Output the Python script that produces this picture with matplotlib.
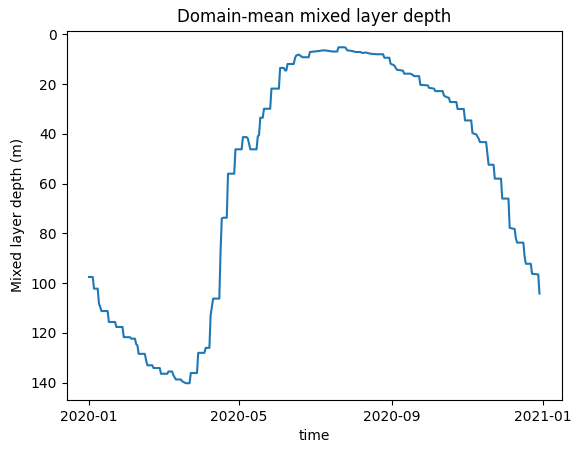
import numpy as np
import matplotlib
matplotlib.use("Agg")
import matplotlib.pyplot as plt
import matplotlib.dates as mdates

start_date = "2020-01-01"
# day offsets from start_date at the vertices of the curve
day_offsets = [0, 3, 4, 7, 8, 9, 10, 15, 16, 21, 22, 27, 28, 33, 34, 37, 38, 39, 40, 45,
               46, 47, 51, 52, 57, 58, 63, 64, 67, 68, 70, 74, 75, 78, 81, 82, 87, 88, 93, 94,
               97, 98, 100, 105, 106, 107, 108, 111, 112, 117, 118, 123, 124, 127, 128, 130, 131, 135, 136, 137,
               138, 140, 141, 146, 147, 153, 154, 157, 158, 159, 160, 165, 166, 167, 169, 172, 173, 177, 178, 185,
               189, 194, 196, 200, 201, 206, 207, 208, 212, 215, 219, 220, 223, 227, 232, 237, 238, 242, 243, 246,
               248, 253, 254, 259, 261, 262, 266, 267, 273, 274, 278, 279, 285, 286, 288, 290, 291, 296, 297, 302,
               303, 308, 309, 312, 314, 315, 320, 321, 322, 326, 327, 332, 333, 338, 339, 343, 344, 345, 350, 351,
               352, 356, 357, 362, 363]
mld = [97.5, 97.5, 102.2, 102.2, 108.2, 109.5, 111.2, 111.2, 115.6, 115.6, 117.6, 117.6, 121.7, 121.7, 122.3, 122.3, 124.5, 125.0, 128.4, 128.4,
       131.0, 133.0, 133.0, 134.1, 134.1, 136.4, 136.4, 135.5, 135.5, 137.0, 138.7, 138.7, 139.4, 140.2, 140.2, 136.1, 136.1, 128.0, 128.0, 126.0,
       126.0, 112.9, 106.2, 106.2, 87.1, 74.0, 73.7, 73.7, 56.0, 56.0, 46.2, 46.2, 41.3, 41.3, 41.9, 46.2, 46.2, 46.2, 41.0, 40.5,
       33.5, 33.5, 29.9, 29.9, 21.8, 21.8, 13.5, 13.5, 14.5, 14.5, 11.9, 11.9, 9.5, 8.5, 8.1, 9.2, 9.2, 9.2, 7.1, 6.7,
       6.4, 6.7, 6.9, 6.9, 5.2, 5.2, 5.5, 6.4, 6.7, 7.1, 7.1, 7.5, 7.3, 7.8, 8.0, 8.0, 9.4, 9.4, 11.8, 12.5,
       14.2, 14.6, 15.8, 15.8, 16.3, 16.8, 16.8, 20.3, 20.5, 21.5, 21.8, 22.8, 22.8, 24.6, 25.2, 25.5, 27.2, 27.2, 30.0, 30.0,
       34.6, 34.6, 39.7, 40.2, 41.9, 43.3, 43.3, 48.0, 52.4, 52.4, 58.0, 58.0, 66.0, 66.0, 77.8, 78.2, 82.1, 83.7, 83.7, 89.2,
       92.2, 92.2, 96.2, 96.5, 104.2]

title = "Domain-mean mixed layer depth"
xlabel = "time"
ylabel = "Mixed layer depth (m)"

times = np.datetime64(start_date) + np.array(day_offsets).astype("timedelta64[D]")

fig = plt.figure(figsize=(5.79, 4.53), dpi=100)
ax = fig.add_axes([66.5 / 579, 53 / 453, 495.5 / 579, 369.5 / 453])
ax.plot(times, mld, color="#1f77b4", linewidth=1.5)
ax.invert_yaxis()
ax.xaxis.set_major_locator(mdates.MonthLocator(bymonth=[1, 5, 9]))
ax.xaxis.set_major_formatter(mdates.DateFormatter("%Y-%m"))
ax.set_title(title)
ax.set_xlabel(xlabel)
ax.set_ylabel(ylabel)
fig.savefig("out.png", dpi=100)
